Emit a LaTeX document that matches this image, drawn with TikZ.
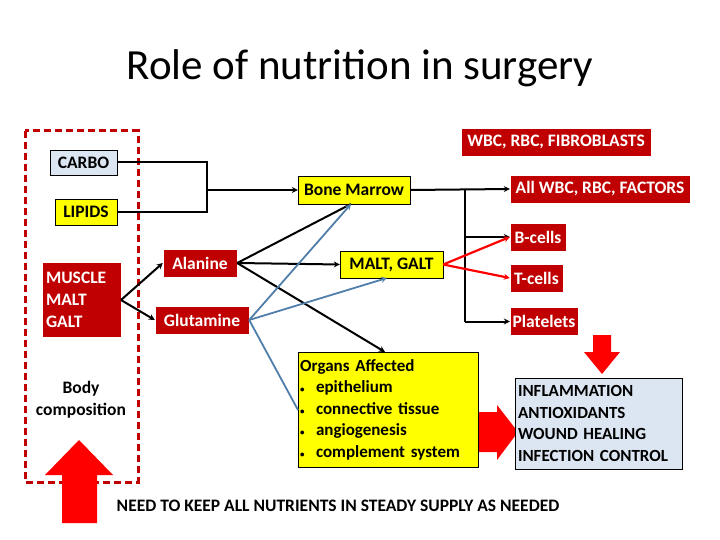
\documentclass[tikz,border=0pt]{standalone}
\usepackage{fontspec}
\setmainfont{Carlito}
\usetikzlibrary{arrows.meta}
\definecolor{dred}{RGB}{192,0,0}
\definecolor{lblue}{RGB}{220,230,242}
\definecolor{bline}{RGB}{80,126,170}
\definecolor{ylw}{RGB}{255,255,0}
\begin{document}
\begin{tikzpicture}[x=1pt,y=-1pt,
  tf/.style={font=\fontsize{17.5}{20}\selectfont\bfseries},
  rbox/.style={tf,fill=dred,text=white,draw=white,inner sep=0pt},
  ybox/.style={tf,fill=ylw,draw=black,inner sep=0pt},
  bbox/.style={tf,fill=lblue,draw=black,inner sep=0pt},
  blk/.style={black,line width=2pt},
  arr/.style={-{Stealth[length=6pt,width=6pt]}},
  bl/.style={bline,line width=1.8pt},
  rd/.style={red,line width=2.2pt},
  bigarrow/.style={fill=red,draw=none}]
\useasboundingbox (0,0) rectangle (720,540);
\node (title) at (360,68) {\fontsize{43}{50}\selectfont Role of nutrition in surgery};
\draw[dred,line width=3pt,dash pattern=on 7pt off 4pt] (25,131) rectangle (138,482);
\node[rbox,minimum width=190,minimum height=28] (fib) at (556,142) {WBC, RBC, FIBROBLASTS};
\node[bbox,minimum width=67,minimum height=25] (carbo) at (83.5,162.5) {CARBO};
\node[ybox,minimum width=62,minimum height=26] (lipids) at (86,212) {LIPIDS};
\node[ybox,minimum width=112,minimum height=28] (bm) at (354,190) {Bone Marrow};
\node[rbox,minimum width=180,minimum height=28] (allw) at (600,189) {All WBC, RBC, FACTORS};
\node[rbox,minimum width=56,minimum height=28] (bc) at (538,237) {B-cells};
\node[rbox,minimum width=53,minimum height=28] (tc) at (536.5,278) {T-cells};
\node[rbox,minimum width=68,minimum height=28] (pl) at (544,321.5) {Platelets};
\node[ybox,minimum width=103,minimum height=27] (malt) at (391.5,264.5) {MALT, GALT};
\node[rbox,minimum width=74,minimum height=28] (ala) at (200,263) {Alanine};
\node[rbox,minimum width=94,minimum height=28] (glu) at (202,320) {Glutamine};
\node[rbox,minimum width=79,minimum height=75,align=left,text width=71,font=\fontsize{17.5}{22}\selectfont\bfseries] (mus) at (81.5,299.5) {MUSCLE\\MALT\\GALT};
\node[align=center,font=\fontsize{17.5}{22}\selectfont\bfseries] (body) at (81,400) {Body\\composition};
% big arrows
\fill[bigarrow] (473,412) -- (497,412) -- (497,405) -- (518,432) -- (497,460) -- (497,452) -- (473,452) -- cycle;
\fill[bigarrow] (593,335) -- (611,335) -- (611,352) -- (620,352) -- (602,374) -- (584,352) -- (593,352) -- cycle;
\fill[bigarrow] (62,523) -- (97,523) -- (97,475) -- (113,475) -- (79,440) -- (45,475) -- (62,475) -- cycle;
\node[ybox,minimum width=180,minimum height=115,anchor=north west,align=left,text width=176,font=\fontsize{17}{21.5}\selectfont\bfseries] (org) at (298,352) {Organs Affected\\
{\small\textbullet}\ \ epithelium\\ {\small\textbullet}\ \ connective tissue\\ {\small\textbullet}\ \ angiogenesis\\ {\small\textbullet}\ \ complement system};
\node[bbox,minimum width=167,minimum height=91,align=left,text width=161,font=\fontsize{17}{21.5}\selectfont\bfseries] (res) at (598.5,423.5) {INFLAMMATION\\ANTIOXIDANTS\\WOUND HEALING\\INFECTION CONTROL};
\node[tf] (need) at (338,506) {NEED TO KEEP ALL NUTRIENTS IN STEADY SUPPLY AS NEEDED};
% connectors
\coordinate (j1) at (207,162.5);
\coordinate (j2) at (207,212);
\coordinate (j3) at (207,190);
\draw[blk] (carbo.east) -- (j1) -- (j2) -- (lipids.east);
\draw[blk,arr] (j3) -- (bm.west);
\draw[blk,arr] (bm.east) -- (allw.west);
\coordinate (k1) at (465,190);
\coordinate (k2) at (465,237);
\coordinate (k3) at (465,321.5);
\draw[blk] (k1) -- (k3);
\draw[blk,arr] (k2) -- (bc.west);
\draw[blk,arr] (k3) -- (pl.west);
\draw[rd,arr] (malt.east) -- (bc.west);
\draw[rd,arr] (malt.east) -- (tc.west);
\coordinate (mo) at (121,300);
\draw[blk,arr] (mo) -- (ala.west);
\draw[blk,arr] (mo) -- (glu.west);
\coordinate (bmb) at (351,204);
\draw[blk] (ala.east) -- (bmb);
\draw[blk,arr] (ala.east) -- (malt.west);
\draw[blk,arr] (ala.east) -- (385,352);
\draw[bl,arr] (glu.east) -- (bmb);
\draw[bl,arr] (glu.east) -- (387,278);
\draw[bl] (glu.east) -- (298,410);
\end{tikzpicture}
\end{document}
